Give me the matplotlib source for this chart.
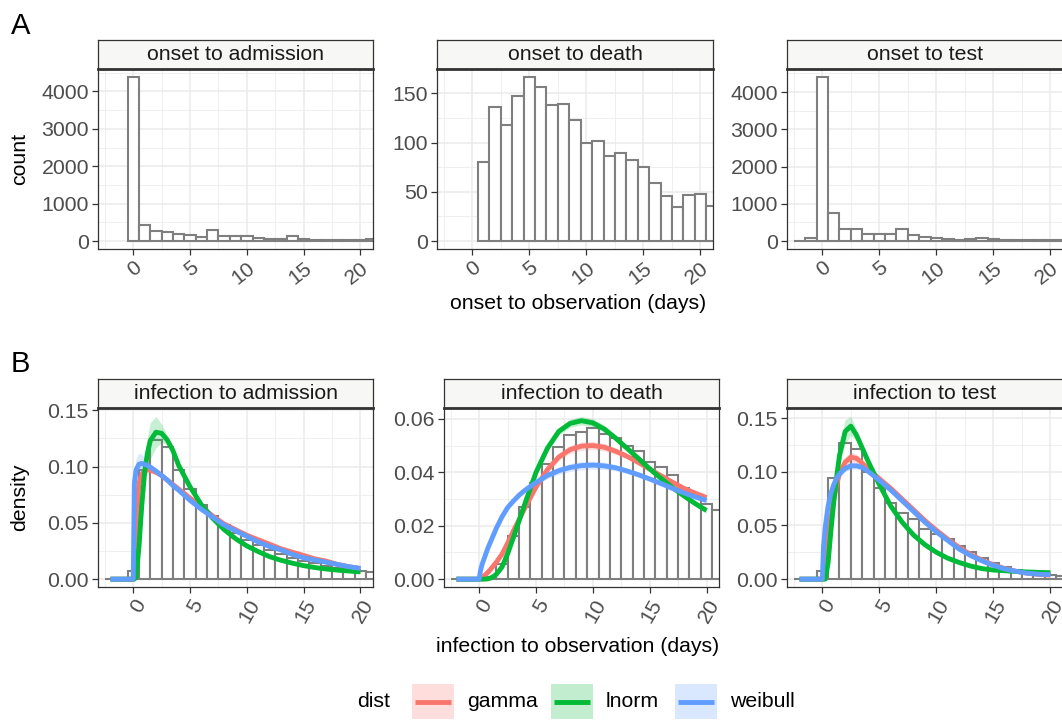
import numpy as np
import matplotlib.pyplot as plt
from matplotlib.patches import Rectangle
from matplotlib.ticker import FixedLocator

plt.rcParams['font.family'] = ['Liberation Sans', 'DejaVu Sans']

W, H = 1062, 720

# ---------------- row A: onset to observation (counts per day) ----------------
adm_days = list(range(0, 22))
adm_count = [4372, 442, 257, 248, 177, 159, 115, 292, 142, 124, 133, 71,
             53, 53, 133, 44, 27, 27, 18, 18, 18, 53]
death_days = list(range(1, 22))
death_count = [80, 136, 118, 147, 166, 156, 138, 139, 123, 100, 102, 86,
               89, 82, 75, 59, 46, 35, 47, 48, 36]
test_days = list(range(-2, 22))
test_count = [10, 80, 4392, 766, 330, 320, 196, 196, 178, 320, 151, 107,
              89, 62, 36, 45, 89, 53, 27, 18, 18, 18, 27, 27]

# ---------------- row B: infection to observation (density per day) ----------------
inf_days = list(range(-2, 22))
inf_adm_dens = [0, 0, 0.0075, 0.097, 0.124, 0.117, 0.097, 0.080, 0.066, 0.056,
                0.048, 0.041, 0.035, 0.030, 0.026, 0.022, 0.019, 0.016, 0.014,
                0.012, 0.010, 0.0088, 0.0075, 0.006]
inf_death_dens = [0, 0, 0, 0.0008, 0.0056, 0.016, 0.027, 0.036, 0.043, 0.0496,
                  0.054, 0.0552, 0.0564, 0.0542, 0.053, 0.050, 0.048, 0.044,
                  0.042, 0.039, 0.034, 0.031, 0.028, 0.0257]
inf_test_dens = [0, 0, 0.0077, 0.094, 0.127, 0.121, 0.100, 0.085, 0.071, 0.062,
                 0.0557, 0.047, 0.042, 0.037, 0.031, 0.0255, 0.0195, 0.015,
                 0.011, 0.0087, 0.0065, 0.005, 0.0038, 0.0025]

fit_x = [-2, -1, 0, 0.1, 0.25, 0.5, 0.75, 1, 1.25, 1.5, 2, 2.5, 3, 3.5, 4, 5,
         6, 7, 8, 9, 10, 11, 12, 13, 14, 15, 16, 17, 18, 19, 20]

adm_gamma = [0, 0, 0, 0.010, 0.050, 0.085, 0.093, 0.096, 0.097, 0.097, 0.095,
             0.092, 0.088, 0.084, 0.080, 0.072, 0.064, 0.056, 0.049, 0.044,
             0.039, 0.035, 0.031, 0.027, 0.024, 0.021, 0.018, 0.016, 0.013,
             0.011, 0.0095]
adm_lnorm = [0, 0, 0, 0, 0.002, 0.028, 0.065, 0.095, 0.112, 0.123, 0.1305,
             0.1295, 0.1235, 0.114, 0.101, 0.082, 0.066, 0.054, 0.044, 0.036,
             0.0295, 0.0245, 0.020, 0.0168, 0.0142, 0.012, 0.0103, 0.009,
             0.008, 0.0072, 0.0065]
adm_weibull = [0, 0, 0, 0.085, 0.097, 0.102, 0.1028, 0.102, 0.101, 0.0995,
               0.096, 0.092, 0.088, 0.083, 0.079, 0.070, 0.062, 0.055, 0.048,
               0.043, 0.038, 0.033, 0.029, 0.026, 0.022, 0.019, 0.017, 0.015,
               0.013, 0.011, 0.0095]

death_gamma = [0, 0, 0, 0.0002, 0.0006, 0.0015, 0.0025, 0.0037, 0.005, 0.0063,
               0.0093, 0.0135, 0.018, 0.0222, 0.0265, 0.0345, 0.041, 0.0457,
               0.0485, 0.0498, 0.050, 0.0494, 0.0479, 0.046, 0.0437, 0.0412,
               0.0387, 0.0363, 0.034, 0.0322, 0.0305]
death_lnorm = [0, 0, 0, 0, 0, 0, 0.0001, 0.0004, 0.001, 0.0018, 0.0045, 0.0095,
               0.0155, 0.0218, 0.028, 0.040, 0.049, 0.0553, 0.0583, 0.0593,
               0.0585, 0.0562, 0.0528, 0.049, 0.0452, 0.0413, 0.0377, 0.0343,
               0.0312, 0.0283, 0.0257]
death_weibull = [0, 0, 0, 0.003, 0.0055, 0.0085, 0.0115, 0.014, 0.0165, 0.019,
                 0.0233, 0.0268, 0.0292, 0.0314, 0.0332, 0.0362, 0.0388,
                 0.0406, 0.0418, 0.0425, 0.0427, 0.0424, 0.0417, 0.0405,
                 0.0391, 0.0375, 0.0358, 0.034, 0.0323, 0.0308, 0.0295]

test_gamma = [0, 0, 0, 0.003, 0.012, 0.035, 0.057, 0.074, 0.088, 0.098, 0.109,
              0.1135, 0.1125, 0.108, 0.1025, 0.0935, 0.0845, 0.0745, 0.0645,
              0.0545, 0.0455, 0.0372, 0.0295, 0.023, 0.0177, 0.0133, 0.0098,
              0.0073, 0.0055, 0.0044, 0.0037]
test_lnorm = [0, 0, 0, 0, 0, 0.015, 0.045, 0.072, 0.095, 0.115, 0.1375, 0.1425,
              0.134, 0.122, 0.110, 0.088, 0.068, 0.053, 0.041, 0.032, 0.025,
              0.0195, 0.0155, 0.0122, 0.0098, 0.0085, 0.0078, 0.0072, 0.0067,
              0.0063, 0.006]
test_weibull = [0, 0, 0, 0.030, 0.048, 0.068, 0.080, 0.088, 0.094, 0.098,
                0.103, 0.1055, 0.1055, 0.104, 0.1005, 0.092, 0.083, 0.073,
                0.063, 0.053, 0.044, 0.036, 0.028, 0.022, 0.017, 0.0128,
                0.0095, 0.0072, 0.0055, 0.0046, 0.0042]

# half-width of the uncertainty ribbons
adm_gamma_band = [0, 0, 0, 0.003, 0.004, 0.005, 0.005, 0.004, 0.003, 0.003,
                  0.002, 0.002, 0.001, 0.001, 0.001, 0.001, 0.001, 0.001, 0.001,
                  0.001, 0.001, 0.001, 0.001, 0.001, 0.001, 0.001, 0.001, 0.001,
                  0.001, 0.001, 0.001]
adm_lnorm_band = [0, 0, 0, 0, 0.001, 0.004, 0.008, 0.011, 0.014, 0.016, 0.014,
                  0.008, 0.004, 0.002, 0.002, 0.001, 0.001, 0.001, 0.001, 0.001,
                  0.001, 0.001, 0.001, 0.001, 0.001, 0.001, 0.001, 0.001, 0.001,
                  0.001, 0.001]
adm_weibull_band = [0, 0, 0, 0.008, 0.010, 0.010, 0.008, 0.006, 0.004, 0.003,
                    0.002, 0.002, 0.001, 0.001, 0.001, 0.001, 0.001, 0.001,
                    0.001, 0.001, 0.001, 0.001, 0.001, 0.001, 0.001, 0.001,
                    0.001, 0.001, 0.001, 0.001, 0.001]
death_band = [0, 0, 0, 0, 0, 0, 0, 0.0003, 0.0003, 0.0004, 0.0005, 0.0006,
              0.0007, 0.0008, 0.0009, 0.001, 0.0012, 0.0014, 0.0015, 0.0016,
              0.0015, 0.0014, 0.0012, 0.001, 0.001, 0.001, 0.001, 0.001,
              0.001, 0.001, 0.001]
test_gamma_band = [0, 0, 0, 0.001, 0.002, 0.003, 0.004, 0.004, 0.004, 0.004,
                   0.005, 0.005, 0.004, 0.003, 0.002, 0.001, 0.001, 0.001,
                   0.001, 0.001, 0.001, 0.001, 0.001, 0.001, 0.001, 0.001,
                   0.0005, 0.0005, 0.0005, 0.0005, 0.0005]
test_lnorm_band = [0, 0, 0, 0, 0, 0.002, 0.004, 0.006, 0.008, 0.009, 0.011,
                   0.009, 0.005, 0.003, 0.002, 0.001, 0.001, 0.001, 0.001,
                   0.001, 0.001, 0.001, 0.001, 0.001, 0.001, 0.0005, 0.0005,
                   0.0005, 0.0005, 0.0005, 0.0005]
test_weibull_band = [0, 0, 0, 0.004, 0.004, 0.003, 0.003, 0.003, 0.003, 0.003,
                     0.003, 0.003, 0.003, 0.002, 0.002, 0.001, 0.001, 0.001,
                     0.001, 0.001, 0.001, 0.001, 0.001, 0.001, 0.001, 0.001,
                     0.0005, 0.0005, 0.0005, 0.0005, 0.0005]

dist_names = ['gamma', 'lnorm', 'weibull']
dist_colors = ['#F8766D', '#00BA38', '#619CFF']

FS = 15.3
GRID = '#EBEBEB'
DARK = '#333333'
BAR_EDGE = '#7F7F7F'

fig = plt.figure(figsize=(W / 100, H / 100), dpi=100)


def px_axes(left, top, right, bottom):
    return fig.add_axes([left / W, 1 - bottom / H, (right - left) / W, (bottom - top) / H])


def strip(left, top, right, bottom, label):
    s = px_axes(left, top, right, bottom)
    s.set_facecolor('#F7F7F5')
    s.set_xticks([])
    s.set_yticks([])
    for sp in s.spines.values():
        sp.set_color(DARK)
        sp.set_linewidth(0.9)
    s.text(0.5, 0.5, label, transform=s.transAxes, ha='center', va='center',
           fontsize=FS, color='#1A1A1A')


def panel(left, top, right, bottom, label, ymajor, yfmt, angle):
    strip(left, top - 29, right, top, label)
    ax = px_axes(left, top, right, bottom)
    ax.set_xlim(-3.1, 21.1)
    ax.xaxis.set_major_locator(FixedLocator([0, 5, 10, 15, 20]))
    ax.xaxis.set_minor_locator(FixedLocator([-2.5, 2.5, 7.5, 12.5, 17.5]))
    ax.yaxis.set_major_locator(FixedLocator(ymajor))
    step = ymajor[1] - ymajor[0]
    ax.yaxis.set_minor_locator(FixedLocator([v + step / 2 for v in ymajor]))
    ax.set_yticklabels([yfmt.format(v) for v in ymajor])
    ax.grid(True, which='major', color=GRID, lw=1.1)
    ax.grid(True, which='minor', color=GRID, lw=0.55)
    ax.set_axisbelow(True)
    ax.tick_params(which='major', length=4, width=0.9, color=DARK,
                   labelcolor='#4D4D4D', labelsize=FS, pad=2.5)
    ax.tick_params(which='minor', length=0)
    for sp in ax.spines.values():
        sp.set_color(DARK)
        sp.set_linewidth(0.9)
    ax.spines['top'].set_linewidth(2.0)
    for lbl in ax.get_xticklabels():
        lbl.set_rotation(angle)
        lbl.set_ha('right')
        lbl.set_va('top')
        lbl.set_rotation_mode('anchor')
    return ax


def hist(ax, days, vals):
    ax.bar(days, vals, width=1, color='white', edgecolor=BAR_EDGE, linewidth=1.5, zorder=2)


def expand(ax, top):
    ax.set_ylim(-0.05 * top, 1.05 * top)


# ---------------- row A ----------------
xA = [(98, 373), (437, 713), (787, 1063)]
topA, botA = 69.3, 249.3
a1 = panel(xA[0][0], topA, xA[0][1], botA, 'onset to admission', [0, 1000, 2000, 3000, 4000], '{:.0f}', 38)
hist(a1, adm_days, adm_count)
expand(a1, max(adm_count))
a2 = panel(xA[1][0], topA, xA[1][1], botA, 'onset to death', [0, 50, 100, 150], '{:.0f}', 38)
hist(a2, death_days, death_count)
expand(a2, max(death_count))
a3 = panel(xA[2][0], topA, xA[2][1], botA, 'onset to test', [0, 1000, 2000, 3000, 4000], '{:.0f}', 38)
hist(a3, test_days, test_count)
expand(a3, max(test_count))

# ---------------- row B ----------------
xB = [(98, 373), (444, 719), (787, 1063)]
topB, botB = 408.3, 587.3
rowB = [
    ('infection to admission', inf_adm_dens, [adm_gamma, adm_lnorm, adm_weibull],
     [adm_gamma_band, adm_lnorm_band, adm_weibull_band], [0, 0.05, 0.10, 0.15]),
    ('infection to death', inf_death_dens, [death_gamma, death_lnorm, death_weibull],
     [death_band, death_band, death_band], [0, 0.02, 0.04, 0.06]),
    ('infection to test', inf_test_dens, [test_gamma, test_lnorm, test_weibull],
     [test_gamma_band, test_lnorm_band, test_weibull_band], [0, 0.05, 0.10, 0.15]),
]
for (l, r), (label, dens, fits, bands, yt) in zip(xB, rowB):
    ax = panel(l, topB, r, botB, label, yt, '{:.2f}', 60)
    hist(ax, inf_days, dens)
    top = max(dens)
    for y, b, c in zip(fits, bands, dist_colors):
        y = np.array(y)
        b = np.array(b)
        ax.fill_between(fit_x, np.clip(y - b, 0, None), y + b, color=c, alpha=0.22, lw=0, zorder=3)
        top = max(top, (y + b).max())
    for y, c in zip(fits, dist_colors):
        ax.plot(fit_x, y, color=c, lw=3.5, solid_capstyle='butt', zorder=4)
    expand(ax, top)

# ---------------- titles and panel tags ----------------
fig.text(20 / W, 1 - 159.3 / H, 'count', rotation=90, ha='center', va='center', fontsize=FS)
fig.text(20 / W, 1 - 497.8 / H, 'density', rotation=90, ha='center', va='center', fontsize=FS)
fig.text(578 / W, 1 - 303 / H, 'onset to observation (days)', ha='center', va='center', fontsize=FS)
fig.text(578 / W, 1 - 647 / H, 'infection to observation (days)', ha='center', va='center', fontsize=FS)
fig.text(11 / W, 1 - 26 / H, 'A', ha='left', va='center', fontsize=21)
fig.text(11 / W, 1 - 364 / H, 'B', ha='left', va='center', fontsize=21)

# ---------------- legend ----------------
lax = fig.add_axes([0, 0, 1, 1], facecolor='none')
lax.set_xlim(0, W)
lax.set_ylim(H, 0)
lax.axis('off')
ly = 701.5
lax.text(357, ly, 'dist', ha='left', va='center', fontsize=FS)
key_left = [412, 551, 675]
for kx, name, c in zip(key_left, dist_names, dist_colors):
    lax.add_patch(Rectangle((kx, ly - 17.5), 42, 35, facecolor=c, alpha=0.24, lw=0))
    lax.plot([kx + 3, kx + 39], [ly, ly], color=c, lw=3.5, solid_capstyle='butt')
    lax.text(kx + 55, ly, name, ha='left', va='center', fontsize=FS)

fig.savefig('out.png', dpi=100)
